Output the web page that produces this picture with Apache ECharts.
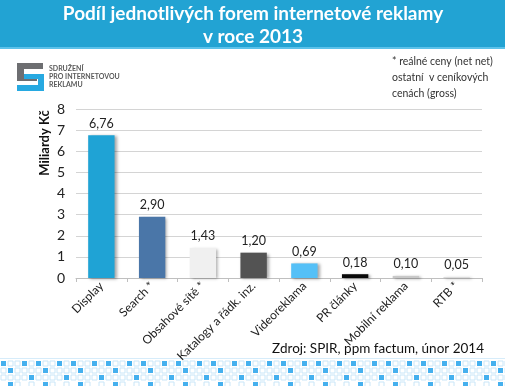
<!DOCTYPE html>
<html><head><meta charset="utf-8">
<script src="https://cdn.jsdelivr.net/npm/echarts@6/dist/echarts.min.js"></script>
<style>html,body{margin:0;padding:0;background:#fff}#c{width:505px;height:386px}</style>
</head><body><div id="c"></div>
<script>
const categories = ['Display','Search *','Obsahové sítě *','Katalogy a řádk. inz.','Videoreklama','PR články','Mobilní reklama','RTB *'];
const values = [6.76, 2.90, 1.43, 1.20, 0.69, 0.18, 0.10, 0.05];
const barColors = ['#1fa3d5','#4a76a8','#f0f0f0','#535353','#55c0f7','#0a0a0a','#c8c8c8','#dcdcdc'];
const yTicks = [0,1,2,3,4,5,6,7,8];
const titleLines = ['Podíl jednotlivých forem internetové reklamy','v roce 2013'];
const noteLines = ['* reálné ceny (net net)','ostatní  v ceníkových','cenách (gross)'];
const sourceText = 'Zdroj: SPIR, ppm factum, únor 2014';
const yName = 'Miliardy Kč';

const FONT = 'Lato, "Open Sans", sans-serif';
const chart = echarts.init(document.getElementById('c'), null, {renderer:'canvas'});

// decorative square pattern at the bottom
const deco = [];
deco.push({type:'rect', shape:{x:0,y:358,width:505,height:1}, style:{fill:'#d6ecfa'}, silent:true});
for (let r = 0; r < 4; r++) {
  for (let c = 0; c < 73; c++) {
    const m = c % 5;
    let filled = false, show = true;
    if (r === 0) filled = (m === 0 || m === 3);
    if (r === 1) filled = (m === 1);
    if (r === 2) filled = (m === 4);
    if (r === 3) { filled = (m === 1); show = (m === 1 || m === 2 || m === 4); }
    if (!show) continue;
    deco.push({type:'rect', shape:{x:1+c*7, y:361+r*7, width:5, height:5},
      style: filled ? {fill:'#45b0ee'} : {fill:'#fff', stroke:'#c9e6f8', lineWidth:1}, silent:true});
  }
}

chart.setOption({
  animation:false,
  grid:{left:76, right:23, top:109, bottom:108},
  xAxis:{
    type:'category', data:categories,
    axisLine:{lineStyle:{color:'#bfbfbf'}},
    axisTick:{show:true, alignWithLabel:false, length:4, lineStyle:{color:'#bfbfbf'}},
    axisLabel:{rotate:45, interval:0, color:'#222', fontSize:12, fontFamily:FONT, margin:6}
  },
  yAxis:{
    type:'value', min:0, max:8, interval:1,
    axisLine:{show:false}, axisTick:{show:false},
    splitLine:{lineStyle:{color:'#d4d4d4'}},
    axisLabel:{color:'#222', fontSize:14, fontFamily:FONT, margin:11,
      formatter:v => yTicks.includes(v) ? String(v) : ''}
  },
  series:[{
    type:'bar', barWidth:'52%',
    data: values.map((v,i)=>({value:v, itemStyle:{color:barColors[i]}})),
    itemStyle:{shadowColor:'rgba(0,0,0,0.35)', shadowBlur:3, shadowOffsetX:2, shadowOffsetY:1},
    label:{show:true, position:'top', distance:5, color:'#222', fontSize:12.5, fontFamily:FONT,
      formatter:p => p.value.toFixed(2).replace('.', ',')}
  }],
  graphic:[
    {type:'rect', shape:{x:0,y:0,width:505,height:48}, style:{fill:'#22a3d3'}, silent:true},
    {type:'rect', shape:{x:0,y:47,width:505,height:2}, style:{fill:'#5cc2ea'}, silent:true},
    {type:'text', x:253, y:14, style:{text:titleLines[0], fill:'#fff', font:'bold 19px '+FONT, align:'center', verticalAlign:'middle'}},
    {type:'text', x:253, y:37, style:{text:titleLines[1], fill:'#fff', font:'bold 19px '+FONT, align:'center', verticalAlign:'middle'}},
    // logo
    {type:'polygon', shape:{points:[[17,63],[43,63],[43,69],[24,69],[24,76],[37,76],[37,81],[17,81]]}, style:{fill:'#6d6e71'}},
    {type:'polygon', shape:{points:[[24,74],[44,74],[44,91],[17,91],[17,85],[38,85],[38,79],[24,79]]}, style:{fill:'#27a9e1'}},
    {type:'text', x:49, y:69, style:{text:'SDRUŽENÍ', fill:'#5a5a5a', font:'bold 7px '+FONT, verticalAlign:'middle'}},
    {type:'text', x:49, y:77, style:{text:'PRO INTERNETOVOU', fill:'#5a5a5a', font:'bold 7px '+FONT, verticalAlign:'middle'}},
    {type:'text', x:49, y:85, style:{text:'REKLAMU', fill:'#5a5a5a', font:'bold 7px '+FONT, verticalAlign:'middle'}},
    // note
    {type:'text', x:392, y:62, style:{text:noteLines[0], fill:'#333', font:'10.5px '+FONT, verticalAlign:'middle'}},
    {type:'text', x:392, y:78, style:{text:noteLines[1], fill:'#333', font:'10.5px '+FONT, verticalAlign:'middle'}},
    {type:'text', x:392, y:94, style:{text:noteLines[2], fill:'#333', font:'10.5px '+FONT, verticalAlign:'middle'}},
    // y axis name
    {type:'text', x:45, y:143, rotation:Math.PI/2, style:{text:yName, fill:'#111', font:'bold 13px '+FONT, align:'center', verticalAlign:'middle'}},
    // source
    {type:'text', x:484, y:349, style:{text:sourceText, fill:'#111', font:'13.5px '+FONT, align:'right', verticalAlign:'middle'}}
  ].concat(deco)
});
</script></body></html>
